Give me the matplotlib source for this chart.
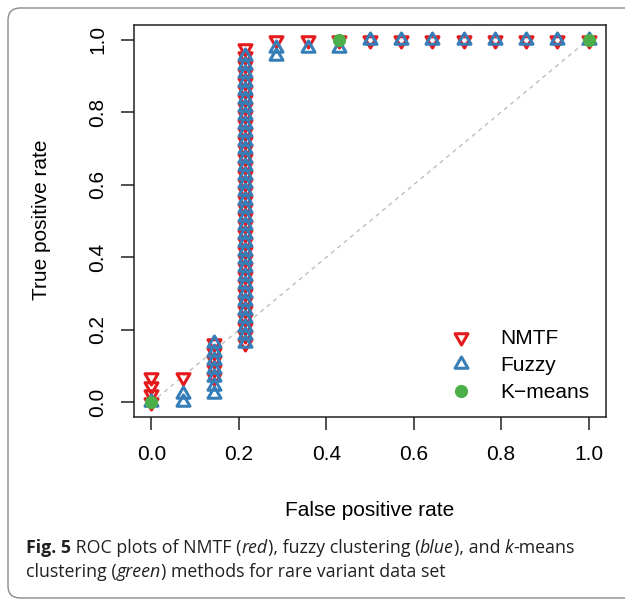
import matplotlib
matplotlib.use("Agg")
import matplotlib.pyplot as plt
import numpy as np
from matplotlib.path import Path
from matplotlib.patches import FancyBboxPatch
from matplotlib.lines import Line2D

# ROC points: false positive rate / true positive rate
n_pos = 43
fpr_nmtf = [0/14] * 4 + [1/14] + [2/14] * 5 + [3/14] * 36 + [k/14 for k in range(4, 15)]
tp_nmtf = [0, 1, 2, 3, 3, 3, 4, 5, 6, 7,
           7, 8, 9, 10, 11, 12, 13, 14, 15, 16, 17, 18, 19, 20, 21, 22, 23, 24,
           25, 26, 27, 28, 29, 30, 31, 32, 33, 34, 35, 36, 37, 38, 39, 40, 41, 42,
           43, 43, 43, 43, 43, 43, 43, 43, 43, 43, 43]

fpr_fuzzy = [0/14] + [1/14] * 2 + [2/14] * 7 + [3/14] * 35 + [4/14] * 2 + [k/14 for k in range(5, 15)]
tp_fuzzy = [0, 0, 1, 1, 2, 3, 4, 5, 6, 7,
            7, 8, 9, 10, 11, 12, 13, 14, 15, 16, 17, 18, 19, 20, 21, 22, 23, 24,
            25, 26, 27, 28, 29, 30, 31, 32, 33, 34, 35, 36, 37, 38, 39, 40, 41,
            41, 42, 42, 42, 43, 43, 43, 43, 43, 43, 43, 43]

fpr_kmeans = [0.0, 3/7, 1.0]
tpr_kmeans = [0.0, 1.0, 1.0]

tpr_nmtf = np.array(tp_nmtf) / n_pos
tpr_fuzzy = np.array(tp_fuzzy) / n_pos

red = "#E41A1C"
blue = "#377EB8"
green = "#4DAF4A"

# equilateral triangles like R's pch 2 / pch 6
s3 = np.sqrt(3) / 2
tri_up = Path([(0, 1), (-s3, -0.5), (s3, -0.5), (0, 1)],
              [Path.MOVETO, Path.LINETO, Path.LINETO, Path.CLOSEPOLY])
tri_down = Path([(0, -1), (-s3, 0.5), (s3, 0.5), (0, -1)],
                [Path.MOVETO, Path.LINETO, Path.LINETO, Path.CLOSEPOLY])

plt.rcParams['font.family'] = ['Liberation Sans', 'DejaVu Sans']

W, H = 625, 601
fig = plt.figure(figsize=(W / 100, H / 100), dpi=100)

# outer rounded frame of the figure panel
frame = FancyBboxPatch((8 / W, 3 / H), 700 / W, 590 / H,
                       boxstyle="round,pad=0,rounding_size=0.02",
                       transform=fig.transFigure, facecolor="none",
                       edgecolor="#8a8a8a", linewidth=1.0)
fig.patches.append(frame)

ax = fig.add_axes([134 / W, 1 - 417 / H, (606 - 134) / W, (417 - 25) / H])
ax.set_xlim(-0.04, 1.04)
ax.set_ylim(-0.04, 1.04)

ax.plot([0, 1], [0, 1], color="#BEBEBE", linestyle=(0, (3, 3)), linewidth=1.0)

ms = 10.8
mew = 2.2
ax.plot(fpr_nmtf, tpr_nmtf, linestyle="none", marker=tri_down, markersize=ms,
        markerfacecolor="none", markeredgecolor=red, markeredgewidth=mew)
ax.plot(fpr_fuzzy, tpr_fuzzy, linestyle="none", marker=tri_up, markersize=ms,
        markerfacecolor="none", markeredgecolor=blue, markeredgewidth=mew)
ax.plot(fpr_kmeans, tpr_kmeans, linestyle="none", marker="o", markersize=9.5,
        color=green, markeredgewidth=0)

ticks = [0.0, 0.2, 0.4, 0.6, 0.8, 1.0]
ax.set_xticks(ticks)
ax.set_yticks(ticks)
ax.set_xticklabels([f"{t:.1f}" for t in ticks])
ax.set_yticklabels([f"{t:.1f}" for t in ticks], rotation=90, va="center")
ax.tick_params(axis="both", length=9.5, width=1.1, color="#222222",
               labelsize=15, direction="out")
ax.tick_params(axis="x", pad=11)
ax.tick_params(axis="y", pad=10)
for sp in ax.spines.values():
    sp.set_linewidth(1.1)
    sp.set_color("#222222")

fig.text(370 / W, 1 - 511 / H, "False positive rate", fontsize=15,
         ha="center", va="center")
fig.text(42 / W, 1 - 220 / H, "True positive rate", fontsize=15,
         ha="center", va="center", rotation=90)

handles = [
    Line2D([], [], linestyle="none", marker=tri_down, markersize=ms,
           markerfacecolor="none", markeredgecolor=red, markeredgewidth=mew),
    Line2D([], [], linestyle="none", marker=tri_up, markersize=ms,
           markerfacecolor="none", markeredgecolor=blue, markeredgewidth=mew),
    Line2D([], [], linestyle="none", marker="o", markersize=9.5,
           color=green, markeredgewidth=0),
]
ax.legend(handles, ["NMTF", "Fuzzy", "K\u2212means"], loc="upper left",
          bbox_to_anchor=(451 / W, 1 - 329 / H), bbox_transform=fig.transFigure,
          frameon=False, fontsize=15, handlelength=1.0, handletextpad=1.35,
          labelspacing=0.38, borderpad=0, borderaxespad=0)

# caption with mixed bold / italic pieces
cap_font = "Open Sans"
cap_size = 12.8
lines = [
    [("Fig. 5", "bold", "normal"), (" ROC plots of NMTF (", "normal", "normal"),
     ("red", "normal", "italic"), ("), fuzzy clustering (", "normal", "normal"),
     ("blue", "normal", "italic"), ("), and ", "normal", "normal"),
     ("k", "normal", "italic"), ("-means", "normal", "normal")],
    [("clustering (", "normal", "normal"), ("green", "normal", "italic"),
     (") methods for rare variant data set", "normal", "normal")],
]
baselines = [553, 577]
renderer = fig.canvas.get_renderer()
for pieces, yb in zip(lines, baselines):
    x = 26
    for txt, wt, st in pieces:
        t = fig.text(x / W, 1 - yb / H, txt, fontsize=cap_size, family=cap_font,
                     weight=wt, style=st, ha="left", va="baseline", color="#231f20")
        bb = t.get_window_extent(renderer=renderer)
        x += bb.width

fig.savefig("out.png", dpi=100)
